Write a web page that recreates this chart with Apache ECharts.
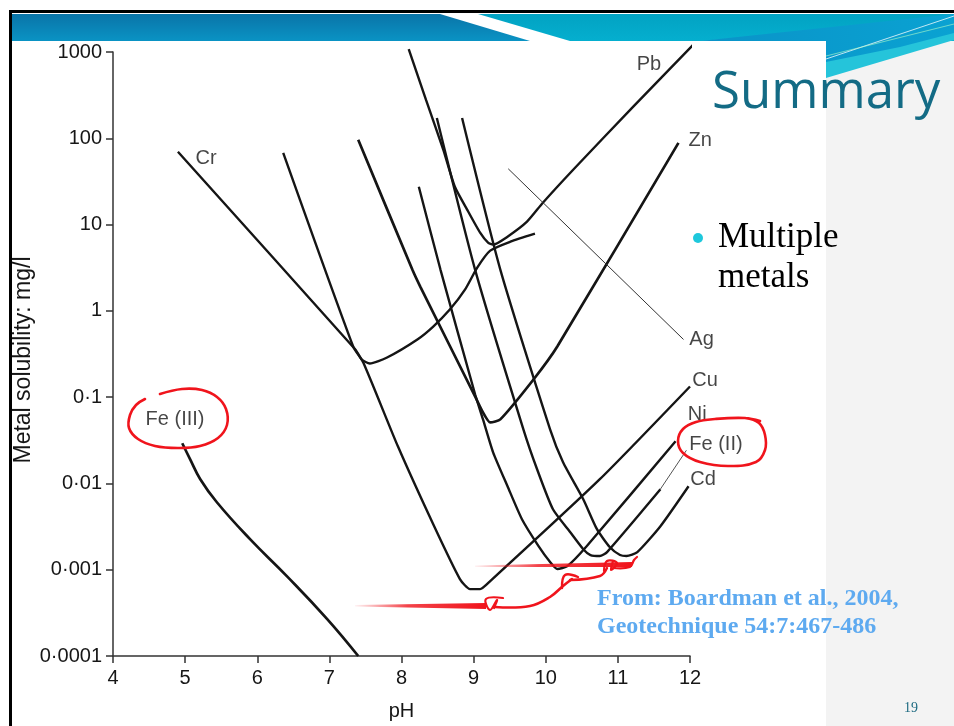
<!DOCTYPE html>
<html>
<head>
<meta charset="utf-8">
<script src="https://cdn.jsdelivr.net/npm/echarts@6/dist/echarts.min.js"></script>
<style>html,body{margin:0;padding:0;background:#fff}#c{width:954px;height:726px}</style>
</head>
<body>
<div id="c"></div>
<script>
// ---- data (pH, solubility mg/l) ----
const yTickLabels = ['0·0001','0·001','0·01','0·1','1','10','100','1000'];
const feIII = [[4.96,0.0292],[5.07,0.0190],[5.21,0.0112],[5.44,0.00605],[5.90,0.00226],[6.41,0.000843],[6.97,0.000268],[7.40,0.0001]];
const cr = [[4.90,69.7],[7.36,0.356],[7.45,0.273],[7.56,0.245],[7.80,0.288],[8.22,0.466],[8.44,0.658],[8.67,1.035],[8.88,1.76],[9.05,3.17],[9.23,4.99],[9.51,6.34],[9.85,7.84]];
const cu = [[6.36,67.8],[7.33,0.386],[7.47,0.252],[7.95,0.0269],[8.44,0.00336],[8.81,0.000778],[8.95,0.000596],[9.09,0.000596],[9.23,0.000738],[10.75,0.0112],[12.0,0.133]];
const pb = [[8.10,1080],[8.34,278],[8.58,73.5],[8.74,27.4],[8.91,14.9],[9.09,8.05],[9.20,6.17],[9.27,5.85],[9.47,7.24],[9.74,10.8],[9.96,17.9],[10.38,43.2],[11.21,231],[12.04,1205]];
const zn = [[7.40,95.9],[8.15,3.01],[8.26,1.91],[9.02,0.102],[9.13,0.0665],[9.23,0.0509],[9.37,0.0552],[9.83,0.160],[10.16,0.386],[11.84,88.5]];
const ni = [[8.24,27.4],[8.54,3.01],[9.02,0.108],[9.13,0.0552],[9.27,0.0229],[9.47,0.00927],[9.67,0.00385],[9.90,0.00188],[10.06,0.00123],[10.16,0.00102],[10.30,0.0011],[10.57,0.00188],[11.80,0.0308]];
const feII = [[8.49,172],[9.02,3.01],[9.69,0.0424],[9.88,0.0146],[10.10,0.00502],[10.34,0.00272],[10.52,0.00173],[10.62,0.00148],[10.75,0.00144],[10.85,0.0016],[11.59,0.00855]];
const feIILeader = [[11.59,0.0086],[11.95,0.0242]];
const cd = [[8.84,172],[9.37,3.01],[10.06,0.0424],[10.24,0.0176],[10.52,0.00656],[10.71,0.00295],[10.89,0.00182],[11.03,0.00148],[11.12,0.00144],[11.27,0.0016],[11.59,0.00319],[11.98,0.00927]];
const ag = [[9.48,44.3],[11.91,0.466]];
const lineLabels = [[11.43,708,'Pb'],[12.14,93.3,'Zn'],[12.16,0.466,'Ag'],[12.21,0.156,'Cu'],[12.10,0.0631,'Ni'],[12.36,0.0284,'Fe (II)'],[12.18,0.0112,'Cd'],[5.29,57.8,'Cr'],[4.86,0.0552,'Fe (III)']];

const FONT = 'Liberation Sans, Arial, sans-serif';
const chart = echarts.init(document.getElementById('c'), null, {renderer:'canvas'});

function curve(name, data, opt) {
  return Object.assign({
    name, type:'line', data, showSymbol:false, smooth:0.2, animation:false, silent:true,
    lineStyle:{color:'#151515', width:2.4}, z:3
  }, opt || {});
}
const RED = '#f0141c';
const redLine = (pts, w) => ({type:'polyline', z:100, shape:{points:pts, smooth:0.4}, style:{stroke:RED, lineWidth:w||2.5, fill:null, lineCap:'round', lineJoin:'round'}});
const fadeBar = (pts) => ({type:'polygon', z:100, shape:{points:pts}, style:{fill:{type:'linear',x:0,y:0,x2:1,y2:0,colorStops:[{offset:0,color:'rgba(240,20,28,0.05)'},{offset:0.4,color:'rgba(240,20,28,0.8)'},{offset:1,color:RED}]}}});

const option = {
  backgroundColor:'#ffffff',
  animation:false,
  grid:{left:113, right:264, top:52, bottom:69},
  xAxis:{
    type:'value', min:4, max:12, interval:1,
    axisLine:{lineStyle:{color:'#333', width:1.5}},
    axisTick:{length:7, lineStyle:{color:'#333', width:1.5}},
    axisLabel:{fontSize:20, color:'#161616', fontFamily:FONT, margin:12},
    splitLine:{show:false},
    name:'pH', nameLocation:'middle', nameGap:45, nameMoveOverlap:false,
    nameTextStyle:{fontSize:20, color:'#161616', fontFamily:FONT}
  },
  yAxis:{
    type:'log', logBase:10, min:0.0001, max:1000,
    axisLine:{show:true, lineStyle:{color:'#333', width:1.5}},
    axisTick:{show:true, length:7, lineStyle:{color:'#333', width:1.5}},
    minorTick:{show:false},
    axisLabel:{fontSize:20, color:'#161616', fontFamily:FONT, margin:11,
      formatter:(v)=>{const i=Math.round(Math.log10(v))+4; return yTickLabels[i]||'';}},
    splitLine:{show:false},
    name:'Metal solubility: mg/l', nameLocation:'middle', nameGap:78, nameRotate:90, nameMoveOverlap:false,
    nameTextStyle:{fontSize:23, color:'#161616', fontFamily:FONT, padding:[0,12,0,0]}
  },
  graphic:[
    {type:'rect', z:0, shape:{x:826,y:41,width:128,height:685}, style:{fill:'#f3f3f3'}},
    {type:'polygon', z:0, shape:{points:[[12,14],[440,14],[530,41],[12,41]]},
      style:{fill:{type:'linear',x:0,y:0,x2:0,y2:1,colorStops:[{offset:0,color:'#0a74a8'},{offset:1,color:'#0a93c4'}]}}},
    {type:'polygon', z:0, shape:{points:[[478,14],[954,14],[954,41],[570,41]]},
      style:{fill:{type:'linear',x:0,y:0,x2:0,y2:1,colorStops:[{offset:0,color:'#02a2c2'},{offset:1,color:'#05afcf'}]}}},
    {type:'polygon', z:0, shape:{points:[[700,41],[954,20],[954,40],[900,56],[826,78],[700,78]]}, style:{fill:'#25c4da'}},
    {type:'polygon', z:0, shape:{points:[[700,41],[954,14],[954,33],[900,47],[826,62],[700,62]]},
      style:{fill:{type:'linear',x:0,y:0,x2:1,y2:0,colorStops:[{offset:0,color:'#0a93c8'},{offset:1,color:'#0aa2d2'}]}}},
    {type:'line', z:0, shape:{x1:826,y1:59,x2:954,y2:16}, style:{stroke:'rgba(255,255,255,0.75)', lineWidth:1}},
    {type:'line', z:0, shape:{x1:826,y1:56,x2:954,y2:24}, style:{stroke:'rgba(180,255,200,0.6)', lineWidth:1}},
    {type:'rect', z:0, shape:{x:12,y:41,width:814,height:685}, style:{fill:'#ffffff'}},
    {type:'rect', z:1, shape:{x:10,y:10,width:944,height:3}, style:{fill:'#000'}},
    {type:'rect', z:1, shape:{x:9,y:10,width:3,height:716}, style:{fill:'#000'}},
    {type:'text', z:10, style:{x:712, y:93, text:'Summary', font:'51px "Open Sans", sans-serif', fill:'#136b85', textVerticalAlign:'middle'}},
    {type:'circle', z:10, shape:{cx:698, cy:238, r:5}, style:{fill:'#1ec8dc'}},
    {type:'text', z:10, style:{x:718, y:238, text:'Multiple', font:'35px "Liberation Serif", serif', fill:'#000', textVerticalAlign:'middle'}},
    {type:'text', z:10, style:{x:718, y:278, text:'metals', font:'35px "Liberation Serif", serif', fill:'#000', textVerticalAlign:'middle'}},
    {type:'text', z:10, style:{x:597, y:599, text:'From: Boardman et al., 2004,', font:'bold 24px "Liberation Serif", serif', fill:'#5eaaf0', textVerticalAlign:'middle'}},
    {type:'text', z:10, style:{x:597, y:627, text:'Geotechnique 54:7:467-486', font:'bold 24px "Liberation Serif", serif', fill:'#5eaaf0', textVerticalAlign:'middle'}},
    {type:'text', z:10, style:{x:911, y:708, text:'19', font:'14px "Liberation Serif", serif', fill:'#1d6a80', textAlign:'center', textVerticalAlign:'middle'}},
    // red hand annotations
    redLine([[160,394],[182,389],[202,390],[217,397],[226,409],[227,425],[218,438],[200,446],[178,448],[155,446],[138,439],[129,428],[130,415],[136,405],[145,399]], 2.6),
    redLine([[745,418],[759,423],[765,435],[765,450],[756,462],[728,466],[700,462],[683,453],[678,441],[683,429],[696,422],[715,419],[745,418],[760,421]], 2.6),
    fadeBar([[355,605],[486,603],[486,609],[355,606.5]]),
    redLine([[503,598],[486,599],[490,610],[497,600],[494,608]], 2.2),
    redLine([[495,607],[530,606],[550,597],[563,586],[572,579]], 2.6),
    redLine([[562,588],[565,575],[578,577]], 2.4),
    redLine([[570,580],[600,576],[607,568]], 2.4),
    fadeBar([[475,565.5],[632,562],[632,567],[475,567]]),
    redLine([[604,571],[607,561],[617,563],[611,570],[613,561]], 2.2),
    redLine([[613,568],[630,567],[634,560],[637,557]], 2.2)
  ],
  series:[
    curve('Fe (III)', feIII, {smooth:0.45, lineStyle:{color:'#151515', width:2.7}}),
    curve('Cr', cr),
    curve('Cu', cu),
    curve('Pb', pb, {clip:false}),
    curve('Zn', zn, {lineStyle:{color:'#151515', width:2.7}}),
    curve('Ni', ni),
    curve('Fe (II)', feII),
    curve('Fe (II) leader', feIILeader, {smooth:false, lineStyle:{color:'#555', width:1}}),
    curve('Cd', cd),
    curve('Ag', ag, {smooth:false, lineStyle:{color:'#333', width:1}}),
    {
      type:'scatter', data:lineLabels, symbolSize:1, clip:false, silent:true, animation:false, z:5,
      itemStyle:{color:'rgba(0,0,0,0)'},
      label:{show:true, position:'inside', formatter:(p)=>p.data[2], fontSize:20, color:'#161616', fontFamily:FONT}
    }
  ]
};
chart.setOption(option);
</script>
</body>
</html>
